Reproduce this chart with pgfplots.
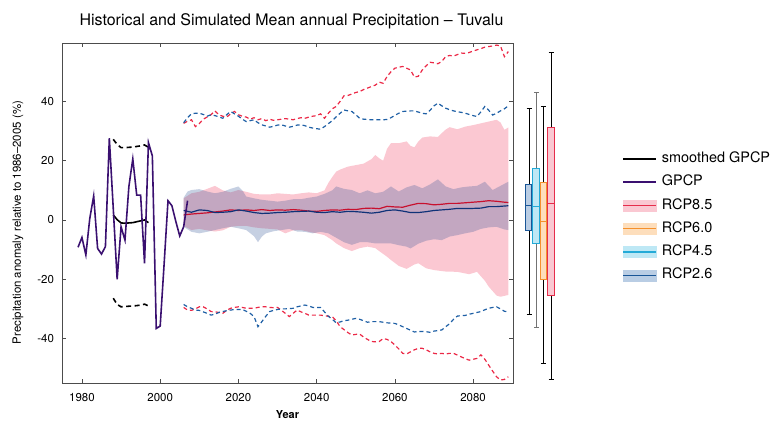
\documentclass[border=0pt]{standalone}
\usepackage{fontspec}
\setmainfont{TeX Gyre Heros}
\usepackage{pgfplots}
\usepackage{pgfplotstable}
\pgfplotsset{compat=1.18}
\usepgfplotslibrary{fillbetween}

\definecolor{gpcpcol}{RGB}{58,16,112}
\definecolor{redline}{RGB}{200,16,46}
\definecolor{reddash}{RGB}{235,40,70}
\definecolor{navyline}{RGB}{15,50,120}
\definecolor{bluedash}{RGB}{30,95,165}
\definecolor{pinkband}{RGB}{251,200,210}
\definecolor{blueband}{RGB}{50,85,150}
\definecolor{bxa}{RGB}{185,205,228}\definecolor{bxaL}{RGB}{25,85,150}
\definecolor{bxb}{RGB}{190,232,245}\definecolor{bxbL}{RGB}{35,170,215}
\definecolor{bxc}{RGB}{253,222,188}\definecolor{bxcL}{RGB}{245,145,45}
\definecolor{bxd}{RGB}{250,200,210}\definecolor{bxdL}{RGB}{230,45,75}

% observed GPCP
\pgfplotstableread{
year val
1979 -9.2
1980 -5.9
1981 -11.8
1982 0.5
1983 8.1
1984 -9.6
1985 -11.5
1986 -9.0
1987 27.6
1988 4.0
1989 -20.0
1990 -2.3
1991 -6.8
1992 11.3
1993 20.6
1994 8.4
1995 8.4
1996 -14.6
1997 26.1
1998 21.6
1999 -36.6
2000 -35.8
2001 -15.0
2002 6.5
2003 4.8
2004 -0.5
2005 -5.4
2006 -2.3
2007 6.5
}\tabgpcp

% smoothed GPCP with its range
\pgfplotstableread{
year mid hi lo
1988 1.7 27.2 -26.4
1989 0.1 25.5 -28.5
1990 -1.0 24.4 -29.3
1991 -1.1 24.4 -29.2
1992 -1.0 24.5 -29.1
1993 -0.9 24.6 -29.0
1994 -0.6 24.8 -28.9
1995 -0.3 25.0 -28.7
1996 0.0 25.3 -28.4
1997 -0.9 24.5 -29.0
}\tabsmooth

% model extremes (dashed)
\pgfplotstableread{
year r85max r85min r26max r26min
2006 32.6 -29.5 32.8 -28.5
2007 33.3 -30.4 34.5 -29.3
2008 33.8 -30.5 35.8 -29.8
2009 31.5 -30.0 36.0 -30.4
2010 32.5 -29.3 36.0 -30.5
2011 34.0 -29.3 35.6 -31.0
2012 34.7 -30.0 35.0 -31.5
2013 35.5 -30.9 35.5 -32.1
2014 36.8 -31.0 35.2 -31.8
2015 35.5 -31.2 34.8 -31.2
2016 35.0 -31.5 34.3 -30.9
2017 34.7 -30.5 35.5 -30.6
2018 35.8 -29.8 36.6 -30.4
2019 36.6 -29.5 35.8 -30.2
2020 35.5 -29.3 35.0 -30.2
2021 35.0 -29.5 34.0 -30.2
2022 34.7 -29.8 33.2 -30.8
2023 34.0 -29.8 33.5 -31.5
2024 34.5 -29.8 33.8 -32.6
2025 33.8 -29.5 32.8 -36.0
2026 34.2 -29.3 32.1 -34.3
2027 33.5 -29.3 31.7 -32.5
2028 34.0 -29.5 31.3 -30.9
2029 33.6 -29.6 31.6 -30.5
2030 33.8 -29.5 32.0 -30.2
2031 34.0 -30.5 32.1 -30.0
2032 34.2 -31.5 31.7 -30.0
2033 34.0 -32.6 31.3 -29.9
2034 33.8 -31.5 31.6 -29.8
2035 34.2 -30.4 32.0 -29.3
2036 34.5 -31.0 32.1 -29.0
2037 34.3 -31.5 31.8 -28.7
2038 34.7 -32.1 31.3 -29.0
2039 35.0 -32.1 31.0 -29.5
2040 35.2 -32.1 30.8 -29.5
2041 35.8 -32.1 30.6 -29.5
2042 34.3 -32.3 31.5 -31.0
2043 36.0 -32.5 32.5 -32.5
2044 37.5 -32.6 33.5 -33.5
2045 38.3 -34.0 34.8 -34.7
2046 40.0 -36.0 36.0 -34.4
2047 41.9 -37.0 37.1 -34.0
2048 42.0 -38.0 36.8 -33.8
2049 42.5 -38.8 36.6 -33.5
2050 43.0 -38.6 35.5 -33.2
2051 43.3 -38.5 34.3 -33.5
2052 44.0 -39.5 34.0 -34.0
2053 44.5 -40.3 33.9 -34.5
2054 45.0 -41.0 33.8 -34.3
2055 45.5 -41.1 33.8 -34.3
2056 46.5 -41.0 33.8 -34.3
2057 46.1 -40.0 33.8 -34.5
2058 48.4 -40.3 33.9 -34.7
2059 50.0 -41.0 34.5 -34.8
2060 51.2 -42.2 35.3 -34.9
2061 51.5 -43.5 36.0 -35.4
2062 51.8 -45.0 36.6 -36.0
2063 51.2 -45.2 36.7 -36.6
2064 50.6 -44.5 36.8 -37.2
2065 48.2 -43.8 36.8 -37.8
2066 48.5 -43.3 36.4 -37.6
2067 50.6 -43.3 36.0 -37.6
2068 52.0 -43.8 35.8 -37.7
2069 53.2 -44.5 37.0 -37.9
2070 53.0 -45.0 38.5 -37.5
2071 52.7 -45.2 39.4 -37.3
2072 53.5 -45.0 38.5 -37.1
2073 55.1 -45.2 37.7 -36.0
2074 55.5 -45.0 37.2 -35.0
2075 55.3 -45.0 36.8 -33.5
2076 55.8 -45.6 36.5 -32.4
2077 56.3 -46.2 36.3 -32.3
2078 56.2 -46.8 36.0 -32.2
2079 56.5 -47.3 35.6 -31.8
2080 57.0 -47.0 35.2 -31.5
2081 57.4 -46.7 34.9 -31.2
2082 57.8 -45.5 36.5 -30.9
2083 58.3 -47.0 38.3 -30.3
2084 58.5 -49.0 37.0 -29.8
2085 58.7 -51.0 35.4 -29.5
2086 59.0 -52.9 36.0 -29.3
2087 58.7 -54.0 36.8 -30.0
2088 55.1 -53.8 37.5 -30.8
2089 56.8 -52.9 38.5 -31.0
}\tabext

% multi-model means
\pgfplotstableread{
year r85 r26
2006 1.7 3.2
2008 2.0 2.6
2010 2.2 3.4
2012 2.4 3.2
2014 2.7 2.5
2016 3.0 2.6
2018 3.4 2.8
2020 3.2 3.4
2022 3.4 3.0
2024 3.2 2.5
2026 3.5 2.2
2028 3.2 2.3
2030 3.4 2.5
2032 3.3 2.6
2034 3.5 2.8
2036 3.3 2.9
2038 3.0 3.0
2040 2.9 2.6
2042 3.2 2.5
2044 3.4 2.8
2046 3.3 2.6
2048 3.6 2.9
2050 3.5 2.8
2052 3.9 2.6
2054 4.0 2.3
2056 3.8 2.6
2058 4.6 3.2
2060 4.4 3.4
2062 4.3 3.0
2064 5.0 2.5
2066 5.6 2.5
2068 5.5 2.8
2070 5.1 3.2
2072 5.3 3.4
2074 5.6 3.6
2076 5.6 3.9
2078 5.8 3.9
2080 6.0 3.9
2082 6.2 4.0
2084 6.5 4.5
2086 6.3 4.5
2088 6.0 4.7
2089 5.9 4.8
}\tabmean

% RCP8.5 band
\pgfplotstableread{
year v
2006 7.3
2008 9.0
2010 9.5
2012 10.5
2014 11.5
2016 10.0
2018 9.3
2020 10.1
2022 9.5
2024 8.8
2026 8.6
2028 8.6
2030 9.0
2032 8.8
2034 8.6
2036 9.0
2038 9.3
2040 9.0
2042 10.0
2043 12.5
2044 14.5
2045 16.3
2046 17.0
2048 18.0
2050 18.5
2052 19.0
2054 20.5
2055 21.9
2056 20.8
2057 20.0
2058 24.0
2059 25.9
2061 25.9
2063 26.5
2064 25.0
2065 24.5
2066 26.5
2067 27.8
2069 28.2
2071 28.0
2072 29.3
2073 30.5
2074 31.3
2076 30.6
2078 31.5
2080 32.0
2082 32.6
2084 33.2
2086 33.8
2087 32.9
2088 30.4
2089 31.2
}\tabrhi
\pgfplotstableread{
year v
2006 -2.0
2008 -3.4
2010 -3.0
2012 -3.5
2014 -3.9
2016 -3.5
2018 -2.3
2020 -2.0
2022 -2.0
2024 -2.5
2026 -2.8
2028 -3.0
2030 -3.2
2032 -4.5
2034 -3.5
2036 -3.4
2038 -4.0
2040 -4.5
2042 -5.1
2044 -6.8
2045 -7.9
2047 -9.5
2049 -10.5
2051 -9.5
2053 -9.0
2055 -9.5
2056 -10.5
2058 -12.4
2059 -13.5
2061 -15.5
2063 -16.5
2065 -15.0
2066 -14.6
2068 -16.3
2070 -16.9
2073 -17.4
2076 -17.5
2079 -18.3
2081 -17.5
2083 -20.5
2084 -22.5
2085 -24.0
2086 -25.5
2087 -25.9
2089 -25.3
}\tabrlo

% RCP2.6 band
\pgfplotstableread{
year v
2006 7.5
2007 9.6
2008 10.1
2010 10.4
2012 9.6
2014 9.0
2016 9.5
2018 10.5
2020 11.3
2021 10.0
2022 7.9
2024 7.3
2026 6.8
2028 6.5
2030 6.2
2032 6.5
2034 7.0
2036 7.0
2038 7.5
2040 7.9
2042 8.8
2044 10.0
2045 11.3
2047 10.5
2049 10.1
2051 9.0
2053 10.0
2055 9.0
2057 9.5
2059 11.3
2061 9.6
2063 11.0
2065 11.8
2067 10.7
2069 12.0
2071 13.7
2073 11.3
2075 10.4
2077 11.0
2079 11.3
2081 11.5
2083 12.9
2085 10.1
2087 11.5
2089 12.9
}\tabbhi
\pgfplotstableread{
year v
2006 -2.3
2008 -4.0
2010 -4.5
2012 -4.0
2014 -3.4
2016 -2.8
2018 -2.3
2020 -2.8
2022 -3.4
2024 -5.5
2025 -7.5
2026 -5.6
2027 -4.5
2029 -3.8
2031 -3.4
2033 -3.0
2035 -3.9
2037 -4.0
2039 -4.5
2041 -4.0
2043 -4.5
2045 -6.0
2047 -7.5
2049 -8.4
2051 -7.5
2053 -7.5
2055 -7.9
2057 -7.9
2059 -7.9
2061 -8.5
2063 -9.0
2064 -9.6
2066 -8.0
2068 -7.0
2070 -6.5
2072 -6.8
2074 -5.6
2076 -5.1
2078 -4.5
2080 -4.0
2082 -3.0
2084 -2.5
2086 -2.3
2088 -3.2
2089 -3.4
}\tabblo

\begin{document}
\begin{tikzpicture}
\begin{axis}[
  name=main,
  scale only axis, width=451bp, height=340bp,
  xmin=1974.9, xmax=2090.2, ymin=-55, ymax=59.7,
  clip=false,
  xtick={1980,2000,...,2080}, ytick={-40,-20,...,40},
  tick align=inside, major tick length=4bp,
  axis line style={black!70, line width=0.8pt},
  tick style={black!70, line width=0.6pt},
  ticklabel style={font=\fontsize{11.5}{13}\selectfont},
  xticklabel style={anchor=base, yshift=-18bp},
  yticklabel style={xshift=-4.5bp},
  /pgf/number format/assume math mode=true,
  /pgf/number format/1000 sep={},
  title={Historical and Simulated Mean annual Precipitation -- Tuvalu},
  title style={font=\fontsize{16}{18}\selectfont, at={(axis description cs:0.5,1)}, anchor=base, yshift=12bp, xshift=4bp},
  xlabel={Year},
  xlabel style={font=\bfseries\fontsize{11}{13}\selectfont, at={(axis description cs:0.5,0)}, anchor=base, yshift=-35bp},
  ylabel={Precipitation anomaly relative to 1986--2005 (\%)},
  ylabel style={font=\fontsize{11.5}{13}\selectfont, at={(axis description cs:-0.0976,0.472)}, anchor=center},
  legend style={at={(axis description cs:1.242,0.686)}, anchor=north west, draw=none, fill=none,
    font=\fontsize{14.5}{17}\selectfont, row sep=5.8bp, inner sep=0pt,
    nodes={inner xsep=5bp, inner ysep=2bp, text height=10.5bp, text depth=3bp}},
  legend cell align=left,
  legend image code/.code={\draw[#1] (0bp,0bp) -- (33bp,0bp);},
]
\addlegendimage{color=black, line width=1.6pt}
\addlegendentry{smoothed GPCP}
\addlegendimage{color=gpcpcol, line width=1.6pt}
\addlegendentry{GPCP}
\addlegendimage{legend image code/.code={\fill[bxd] (0bp,-5.5bp) rectangle (33bp,5.5bp); \draw[bxdL, line width=1.2pt] (0bp,0bp) -- (33bp,0bp);}}
\addlegendentry{RCP8.5}
\addlegendimage{legend image code/.code={\fill[bxc] (0bp,-5.5bp) rectangle (33bp,5.5bp); \draw[bxcL, line width=1.2pt] (0bp,0bp) -- (33bp,0bp);}}
\addlegendentry{RCP6.0}
\addlegendimage{legend image code/.code={\fill[bxb] (0bp,-5.5bp) rectangle (33bp,5.5bp); \draw[bxbL, line width=1.2pt] (0bp,0bp) -- (33bp,0bp);}}
\addlegendentry{RCP4.5}
\addlegendimage{legend image code/.code={\fill[bxa] (0bp,-5.5bp) rectangle (33bp,5.5bp); \draw[bxaL, line width=1.2pt] (0bp,0bp) -- (33bp,0bp);}}
\addlegendentry{RCP2.6}

% bands
\addplot[name path=rhi, draw=none, forget plot] table[x=year, y=v] {\tabrhi};
\addplot[name path=rlo, draw=none, forget plot] table[x=year, y=v] {\tabrlo};
\addplot[fill=pinkband, draw=none, forget plot] fill between[of=rhi and rlo];
\addplot[name path=bhi, draw=none, forget plot] table[x=year, y=v] {\tabbhi};
\addplot[name path=blo, draw=none, forget plot] table[x=year, y=v] {\tabblo};
\addplot[fill=blueband, fill opacity=0.28, draw=none, forget plot] fill between[of=bhi and blo];

% extremes
\addplot[reddash, line width=1.2pt, dash pattern=on 4bp off 3bp, forget plot] table[x=year, y=r85max] {\tabext};
\addplot[reddash, line width=1.2pt, dash pattern=on 4bp off 3bp, forget plot] table[x=year, y=r85min] {\tabext};
\addplot[bluedash, line width=1.2pt, dash pattern=on 4bp off 3bp, forget plot] table[x=year, y=r26max] {\tabext};
\addplot[bluedash, line width=1.2pt, dash pattern=on 4bp off 3bp, forget plot] table[x=year, y=r26min] {\tabext};

% means
\addplot[redline, line width=1.2pt, forget plot] table[x=year, y=r85] {\tabmean};
\addplot[navyline, line width=1.2pt, forget plot] table[x=year, y=r26] {\tabmean};

% observations
\addplot[black, line width=1.6pt, dash pattern=on 5bp off 3.5bp, forget plot] table[x=year, y=hi] {\tabsmooth};
\addplot[black, line width=1.6pt, dash pattern=on 5bp off 3.5bp, forget plot] table[x=year, y=lo] {\tabsmooth};
\addplot[black, line width=1.6pt, forget plot] table[x=year, y=mid] {\tabsmooth};
\addplot[gpcpcol, line width=1.6pt, forget plot] table[x=year, y=val] {\tabgpcp};

% end-of-century ranges right of the frame (x in year units)
% RCP2.6
\addplot[black, line width=0.9pt, forget plot] coordinates {(2094.32,12.0) (2094.32,37.5)};
\addplot[black, line width=0.9pt, forget plot] coordinates {(2093.68,37.5) (2094.96,37.5)};
\addplot[black, line width=0.9pt, forget plot] coordinates {(2094.32,-3.7) (2094.32,-31.8)};
\addplot[black, line width=0.9pt, forget plot] coordinates {(2093.68,-31.8) (2094.96,-31.8)};
\addplot[draw=bxaL, fill=bxa, line width=1.1pt, forget plot] coordinates {(2093.38,-3.7) (2094.91,-3.7) (2094.91,12.0) (2093.38,12.0) (2093.38,-3.7)};
\addplot[bxaL, line width=1.1pt, forget plot] coordinates {(2093.38,4.8) (2094.91,4.8)};
% RCP4.5
\addplot[black!55, line width=0.9pt, forget plot] coordinates {(2096.27,17.4) (2096.27,43.1)};
\addplot[black!55, line width=0.9pt, forget plot] coordinates {(2095.63,43.1) (2096.91,43.1)};
\addplot[black!55, line width=0.9pt, forget plot] coordinates {(2096.27,-8.0) (2096.27,-36.1)};
\addplot[black!55, line width=0.9pt, forget plot] coordinates {(2095.63,-36.1) (2096.91,-36.1)};
\addplot[draw=bxbL, fill=bxb, line width=1.1pt, forget plot] coordinates {(2095.17,-8.0) (2096.96,-8.0) (2096.96,17.4) (2095.17,17.4) (2095.17,-8.0)};
\addplot[bxbL, line width=1.1pt, forget plot] coordinates {(2095.17,4.4) (2096.96,4.4)};
% RCP6.0
\addplot[black, line width=0.9pt, forget plot] coordinates {(2097.98,12.7) (2097.98,38.4)};
\addplot[black, line width=0.9pt, forget plot] coordinates {(2097.34,38.4) (2098.62,38.4)};
\addplot[black, line width=0.9pt, forget plot] coordinates {(2097.98,-20.1) (2097.98,-48.3)};
\addplot[black, line width=0.9pt, forget plot] coordinates {(2097.34,-48.3) (2098.62,-48.3)};
\addplot[draw=bxcL, fill=bxc, line width=1.1pt, forget plot] coordinates {(2097.14,-20.1) (2098.85,-20.1) (2098.85,12.7) (2097.14,12.7) (2097.14,-20.1)};
\addplot[bxcL, line width=1.1pt, forget plot] coordinates {(2097.14,-0.6) (2098.85,-0.6)};
% RCP8.5
\addplot[black, line width=0.9pt, forget plot] coordinates {(2099.95,31.3) (2099.95,56.6)};
\addplot[black, line width=0.9pt, forget plot] coordinates {(2099.31,56.6) (2100.59,56.6)};
\addplot[black, line width=0.9pt, forget plot] coordinates {(2099.95,-25.5) (2099.95,-53.7)};
\addplot[black, line width=0.9pt, forget plot] coordinates {(2099.31,-53.7) (2100.59,-53.7)};
\addplot[draw=bxdL, fill=bxd, line width=1.1pt, forget plot] coordinates {(2099.10,-25.5) (2100.87,-25.5) (2100.87,31.3) (2099.10,31.3) (2099.10,-25.5)};
\addplot[bxdL, line width=1.1pt, forget plot] coordinates {(2099.10,5.7) (2100.87,5.7)};
\end{axis}

\pgfresetboundingbox
\useasboundingbox ([xshift=-62bp,yshift=-38bp]main.south west) rectangle ++(771bp,421bp);
\end{tikzpicture}
\end{document}
